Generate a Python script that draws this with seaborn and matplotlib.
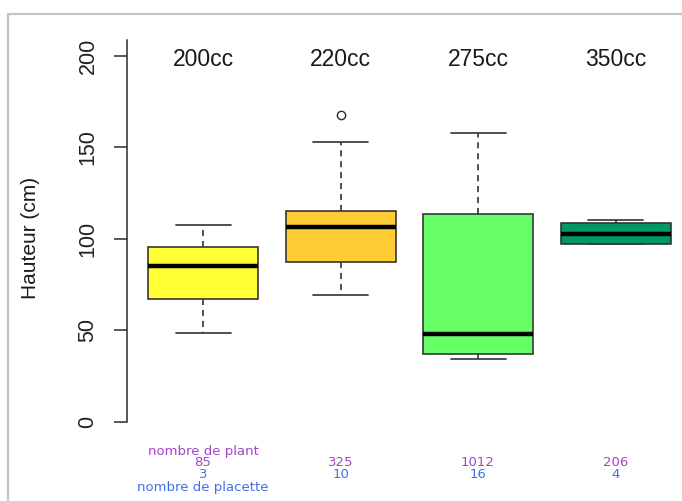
import matplotlib
matplotlib.use("Agg")
import matplotlib.pyplot as plt
from matplotlib.lines import Line2D
import seaborn as sns
import pandas as pd

# Engine displacement classes and box-plot summaries of height (cm)
categories = ["200cc", "220cc", "275cc", "350cc"]
whisker_low = [48.4, 69.1, 34.2, 96.8]
quartile_1 = [67.0, 87.2, 36.9, 96.8]
medians = [85.1, 106.3, 47.8, 102.5]
quartile_3 = [95.4, 115.0, 113.4, 108.6]
whisker_high = [107.4, 152.7, 157.8, 110.0]
outliers = [[], [167.5], [], []]

# Counts shown under each class
n_plants = [85, 325, 1012, 206]
n_placettes = [3, 10, 16, 4]

box_colors = ["#ffff33", "#ffcc33", "#66ff66", "#009966"]


def summary_points(lo, q1, med, q3, hi, extra):
    # Points whose quartiles, median and whisker ends equal the summary values
    return [lo, q1, q1, med, med, q3, q3, hi] + list(extra)


rows = []
for i, cat in enumerate(categories):
    for v in summary_points(whisker_low[i], quartile_1[i], medians[i],
                            quartile_3[i], whisker_high[i], outliers[i]):
        rows.append({"cylindree": cat, "hauteur": v})
df = pd.DataFrame(rows)

sns.set_style("white")
plt.rcParams["font.family"] = ["Liberation Sans", "DejaVu Sans"]

fig = plt.figure(figsize=(6.82, 5.01), dpi=100)
W, H = 682, 501
ax_left, ax_right = 127, 682
ax_top, ax_bottom = 40, 421.5
ax = fig.add_axes([ax_left / W, 1 - ax_bottom / H,
                   (ax_right - ax_left) / W, (ax_bottom - ax_top) / H])

edge = "#2e2e2e"
sns.boxplot(
    data=df, x="cylindree", y="hauteur", hue="cylindree",
    order=categories, hue_order=categories, palette=box_colors,
    legend=False, saturation=1, width=0.8, whis=1.5,
    linecolor=edge, linewidth=1.15, fliersize=6,
    medianprops=dict(color="black", linewidth=3.2),
    whiskerprops=dict(color="#3a3a3a", linestyle=(0, (3.5, 2.8)), linewidth=1.25),
    capprops=dict(color="#3a3a3a", linewidth=1.25),
    flierprops=dict(marker="o", markerfacecolor="none",
                    markeredgecolor="#2e2e2e", markeredgewidth=1.0),
    ax=ax,
)

px_per_unit = 137.5
ax.set_xlim(-(203 - ax_left) / px_per_unit, (ax_right - 203) / px_per_unit)
ax.set_ylim(0, (ax_bottom - ax_top) / 1.83)

for s in ["top", "right", "bottom"]:
    ax.spines[s].set_visible(False)
ax.spines["left"].set_color("#2a2a2a")
ax.spines["left"].set_linewidth(1.1)

ax.set_xticks([])
ax.set_xlabel("")
ax.set_ylabel("")
ax.set_yticks([0, 50, 100, 150, 200])
ax.tick_params(axis="y", direction="out", length=9.5, width=1.1,
               color="#2a2a2a", labelsize=15.5, labelcolor="#222222", pad=11,
               left=True)
for lab in ax.get_yticklabels():
    lab.set_rotation(90)
    lab.set_va("center")

# Class names above the boxes
for i, cat in enumerate(categories):
    ax.text(i, 198, cat, ha="center", va="center", fontsize=16.5,
            color="#1a1a1a")

fig.text(31 / W, 1 - 238 / H, "Hauteur (cm)", rotation=90, ha="center",
         va="center", fontsize=15, color="#1a1a1a")

# Counts beneath the plot
purple = "#a642cc"
blue = "#3f6fe8"
small = dict(ha="center", va="center", fontsize=9.5,
             family=["DejaVu Sans"], clip_on=False)


def y_data(px):
    return (ax_bottom - px) / 1.83


ax.text(0, y_data(451), "nombre de plant", color=purple, **small)
ax.text(0, y_data(488), "nombre de placette", color=blue, **small)
for i in range(len(categories)):
    ax.text(i, y_data(463), str(n_plants[i]), color=purple, **small)
    ax.text(i, y_data(475), str(n_placettes[i]), color=blue, **small)

# Light frame around the figure
frame = "#c4c4c4"
fig.add_artist(Line2D([8 / W, 1], [1 - 14 / H, 1 - 14 / H],
                      transform=fig.transFigure, color=frame, linewidth=1.6))
fig.add_artist(Line2D([8 / W, 8 / W], [1 - 14 / H, 0],
                      transform=fig.transFigure, color=frame, linewidth=1.6))

fig.savefig("out.png", dpi=100)
